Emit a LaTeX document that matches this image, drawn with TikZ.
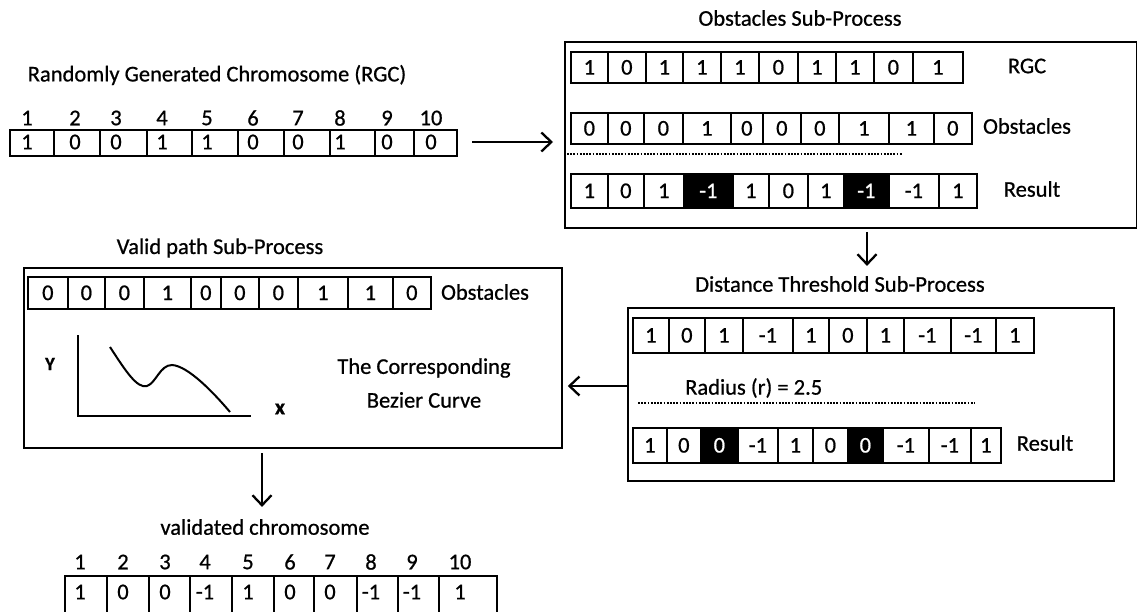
\documentclass[tikz,border=0pt]{standalone}
\usepackage{fontspec}
\setmainfont{Carlito}[FakeBold=0.7]
\usetikzlibrary{arrows.meta}
\newcommand{\cellrow}[4]{%
  \foreach \a/\b/\v/\s [count=\i] in {#4} {
    \node[cellbox,\s,minimum width={(\b-\a)*1pt},minimum height={(#3-#2)*1pt}] (#1-\i) at (\a,#2) {\v};
  }}
\begin{document}
\begin{tikzpicture}[x=1pt,y=-1pt,
  lbl/.style={font=\fontsize{22.5}{26}\selectfont, inner sep=0pt},
  digit/.style={font=\fontsize{22.5}{26}\selectfont},
  cellbox/.style={draw, line width=1.7pt, inner sep=0pt, anchor=north west, digit},
  w/.style={fill=white},
  k/.style={fill=black, text=white},
  bigbox/.style={draw, line width=1.8pt, inner sep=0pt, anchor=north west},
  arr/.style={line width=2.3pt, -{Straight Barb[length=10pt,width=19pt,line width=2.3pt]}},
  dots/.style={line width=2pt, dash pattern=on 1.8pt off 1.4pt},
  axis/.style={line width=2.2pt}]
\useasboundingbox (0,0) rectangle (1137,612);
\clip (0,0) rectangle (1137,612);

% ---------- Randomly generated chromosome ----------
\node[lbl] (rgctitle) at (217,75) {Randomly Generated Chromosome (RGC)};
\foreach \a/\b/\x/\v/\n [count=\i] in {9/53/27/1/1, 53/99/75/0/2, 99/146/116/0/3, 146/191/162/1/4, 191/237/207/1/5, 237/283/253/0/6, 283/329/298/0/7, 329/374/340/1/8, 374/413/387/0/9, 413/456/431/0/10} {
  \node[cellbox, minimum width={(\b-\a)*1pt}, minimum height=26pt] (rgc-\i) at (\a,129) {};
  \node[lbl, digit] (rgcv-\i) at (\x,142) {\v};
  \node[lbl] (rgcn-\i) at (\x,118) {\n};
}

% ---------- Obstacles sub-process ----------
\node[lbl] (obstitle) at (800,18) {Obstacles Sub-Process};
\node[bigbox, minimum width=572pt, minimum height=186pt] (obs) at (564,41) {};
\cellrow{orgc}{51}{82}{570/607/1/w, 607/645/0/w, 645/682/1/w, 682/720/1/w, 720/758/1/w, 758/797/0/w, 797/835/1/w, 835/873/1/w, 873/912/0/w, 912/962/1/w}
\node[lbl] (orgclbl) at (1027,66) {RGC};
\cellrow{oobs}{112}{143}{570/607/0/w, 607/643/0/w, 643/682/0/w, 682/730/1/w, 730/762/0/w, 762/800/0/w, 800/838/0/w, 838/888/1/w, 888/933/1/w, 933/971/0/w}
\node[lbl] (oobslbl) at (1027,126) {Obstacles};
\coordinate (od1) at (567,154);
\coordinate (od2) at (902,154);
\draw[dots] (od1) -- (od2);
\cellrow{ores}{173}{207}{570/607/1/w, 607/643/0/w, 643/683/1/w, 683/732/-1/k, 732/768/1/w, 768/807/0/w, 807/843/1/w, 843/888/-1/k, 888/938/-1/w, 938/976/1/w}
\node[lbl] (oreslbl) at (1032,189) {Result};

% ---------- Distance threshold sub-process ----------
\node[lbl] (dttitle) at (840,284) {Distance Threshold Sub-Process};
\node[bigbox, minimum width=486pt, minimum height=173pt] (dt) at (627,307) {};
\cellrow{drow}{317}{352}{632/668/1/w, 668/704/0/w, 704/742/1/w, 742/792/-1/w, 792/828/1/w, 828/866/0/w, 866/903/1/w, 903/950/-1/w, 950/995/-1/w, 995/1033/1/w}
\node[lbl, anchor=west] (radius) at (685,388) {Radius (r) = 2.5};
\coordinate (dd1) at (638,403);
\coordinate (dd2) at (975,403);
\draw[dots] (dd1) -- (dd2);
\cellrow{dres}{427}{462}{632/666/1/w, 666/700/0/w, 700/737/0/k, 737/777/-1/w, 777/812/1/w, 812/847/0/w, 847/882/0/k, 882/928/-1/w, 928/970/-1/w, 970/1000/1/w}
\node[lbl] (dreslbl) at (1045,443) {Result};

% ---------- Valid path sub-process ----------
\node[lbl] (vptitle) at (220,248) {Valid path Sub-Process};
\node[bigbox, minimum width=538pt, minimum height=180pt] (vp) at (23,267) {};
\cellrow{vobs}{276}{308}{27/67/0/w, 67/104/0/w, 104/143/0/w, 143/190/1/w, 190/220/0/w, 220/258/0/w, 258/297/0/w, 297/347/1/w, 347/392/1/w, 392/430/0/w}
\node[lbl] (vobslbl) at (485,292) {Obstacles};
\coordinate (yax) at (78,335);
\coordinate (org) at (78,416);
\coordinate (xax) at (251,416);
\draw[axis] (yax) -- (org) -- (xax);
\coordinate (c0) at (110,347);
\coordinate (c1) at (147,386);
\coordinate (c2) at (172,365);
\coordinate (c3) at (230,412);
\draw[line width=2pt] (c0) .. controls (125,370) and (137,389) .. (c1)
  .. controls (156,383) and (160,365) .. (c2)
  .. controls (188,366) and (213,392) .. (c3);
\node[lbl, font=\bfseries\fontsize{19}{21}\selectfont] (ylbl) at (50,364) {Y};
\node[lbl, font=\bfseries\fontsize{22}{24}\selectfont] (xlbl) at (280,409) {x};
\node[lbl] (bez1) at (424,368) {The Corresponding};
\node[lbl] (bez2) at (424,400) {Bezier Curve};

% ---------- Validated chromosome ----------
\node[lbl] (valtitle) at (265,527) {validated chromosome};
\foreach \a/\b/\x/\n/\v [count=\i] in {64/106/80/1/1, 106/148/123/2/0, 148/189/165/3/0, 189/231/205/4/-1, 231/273/248/5/1, 273/313/290/6/0, 313/356/330/7/0, 356/397/371/8/-1, 397/438/412/9/-1, 438/496/460/10/1} {
  \node[cellbox, minimum width={(\b-\a)*1pt}, minimum height=50pt] (val-\i) at (\a,575) {};
  \node[lbl, digit] (valv-\i) at (\x,592) {\v};
  \node[lbl] (valn-\i) at (\x,562) {\n};
}

% ---------- Connectors ----------
\coordinate (a0s) at (472,142);
\draw[arr, shorten >=11pt] (a0s) -- (obs.west |- a0s);
\coordinate (a1s) at (867,232);
\draw[arr, shorten >=10pt] (a1s) -- (a1s |- dttitle.north);
\coordinate (a2s) at (627,386);
\draw[arr, shorten >=5pt] (a2s) -- (vp.east |- a2s);
\coordinate (a3s) at (262,453);
\draw[arr, shorten >=12pt] (a3s) -- (a3s |- valtitle.north);
\end{tikzpicture}
\end{document}
